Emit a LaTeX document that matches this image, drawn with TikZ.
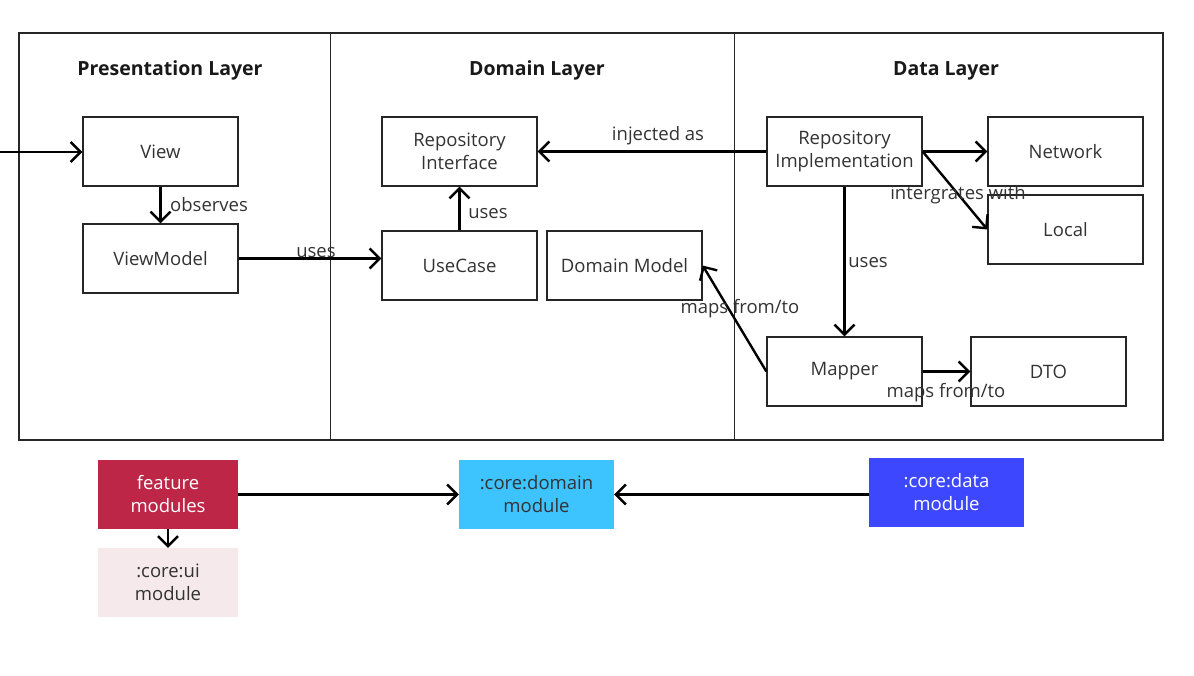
\documentclass[tikz,border=0pt]{standalone}
\usepackage{fontspec}
\setmainfont{Open Sans}
\usetikzlibrary{arrows.meta}
\definecolor{featc}{HTML}{BD2647}
\definecolor{uic}{HTML}{F5E9EB}
\definecolor{domc}{HTML}{3DC3FE}
\definecolor{datac}{HTML}{3D47FE}
\definecolor{txt}{HTML}{333333}
\begin{document}
\begin{tikzpicture}[x=1pt,y=-1pt,
  font=\fontsize{18.5}{23}\selectfont,
  box/.style={draw=black!85, line width=1.3pt, minimum width=155pt, minimum height=69pt, inner sep=0pt, align=center, text=txt},
  modbox/.style={minimum width=#1, minimum height=69pt, inner sep=0pt, align=center},
  arr/.style={line width=2.4pt, -{Straight Barb[length=10pt,width=20pt,line width=2.4pt]}},
  lbl/.style={text=txt, inner sep=0pt},
  title/.style={font=\fontsize{19.5}{23}\selectfont\bfseries, text=black!90, inner sep=0pt},
  frame/.style={draw=black!85, line width=1.3pt}]
\useasboundingbox (0,0) rectangle (1194,676);
% layers
\draw[frame] (19,33) rectangle (1163,440);
\draw[frame] (330.5,33) -- (330.5,440);
\draw[frame] (734.5,33) -- (734.5,440);
\node[title] (tp) at (170,70.5) {Presentation Layer};
\node[title] (td) at (537,70.5) {Domain Layer};
\node[title] (tdl) at (946,70.5) {Data Layer};
% nodes
\node[box] (view) at (160.5,151.5) {View};
\node[box] (vm) at (160.5,258.5) {ViewModel};
\node[box] (ri) at (459.5,151.5) {Repository\\Interface};
\node[box] (uc) at (459.5,265.5) {UseCase};
\node[box] (dm) at (624.5,265.5) {Domain Model};
\node[box] (impl) at (844.5,151.5) {Repository\\Implementation};
\node[box] (net) at (1065.5,151.5) {Network};
\node[box] (loc) at (1065.5,229.5) {Local};
\node[box] (map) at (844.5,371.5) {Mapper};
\node[box] (dto) at (1048.5,371.5) {DTO};
\coordinate (entry) at (0,152);
% connectors
\draw[arr] (entry) -- (view.west |- entry);
\draw[arr] (view) -- (vm);
\draw[arr] (vm.east) -- (uc.west |- vm.east);
\draw[arr] (uc) -- (ri);
\draw[arr] (impl.west) -- (ri.east);
\draw[arr] (impl.east) -- (net.west);
\draw[arr] (impl.east) -- (loc.west);
\draw[arr] (impl) -- (map);
\draw[arr] (map.west) -- (dm.east);
\draw[arr] (map.east) -- (dto.west);
% labels
\node[lbl, anchor=west] (l1) at (170,205) {observes};
\node[lbl] (l2) at (316,253) {uses};
\node[lbl] (l3) at (488,214) {uses};
\node[lbl] (l4) at (658,136) {injected as};
\node[lbl] (l5) at (958,195) {intergrates with};
\node[lbl] (l6) at (868,263) {uses};
\node[lbl] (l7) at (740,309) {maps from/to};
\node[lbl] (l8) at (946,393) {maps from/to};
% modules
\node[modbox=140pt, fill=featc, text=white] (feat) at (168,494.5) {feature\\modules};
\node[modbox=140pt, fill=uic, text=txt] (cui) at (168,582.5) {:core:ui\\module};
\node[modbox=155pt, fill=domc, text=txt] (cdom) at (536.5,494.5) {:core:domain\\module};
\node[modbox=155pt, fill=datac, text=white] (cdata) at (946.5,492.5) {:core:data\\module};
\draw[arr] (feat) -- (cui);
\draw[arr] (feat.east) -- (cdom.west |- feat.east);
\draw[arr] (cdata.west |- cdom.east) -- (cdom.east);
\end{tikzpicture}
\end{document}
